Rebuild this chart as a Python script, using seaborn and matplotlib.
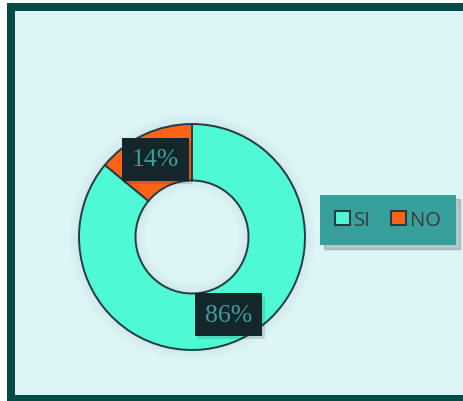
import matplotlib
matplotlib.use("Agg")
import matplotlib.pyplot as plt
import seaborn as sns
import numpy as np
from matplotlib.patches import Rectangle, Patch
import matplotlib.patheffects as pe

categories = ["SI", "NO"]
values = [86, 14]
colors = ["#4EF9D4", "#FF6316"]

sns.set_theme(style="white")
plt.rcParams['font.family'] = ['Open Sans', 'DejaVu Sans']

W, H = 463, 402
fig = plt.figure(figsize=(W / 100, H / 100), dpi=100)
fig.patch.set_facecolor("white")

# panel background and border
fig.patches.append(Rectangle((7 / W, 0), 1, (402 - 4) / H, transform=fig.transFigure,
                             facecolor="#044B45", edgecolor="none", zorder=-3))
fig.patches.append(Rectangle((15 / W, 6 / H), 1, (402 - 12 - 6) / H, transform=fig.transFigure,
                             facecolor="#DDF5F6", edgecolor="none", zorder=-2))

cx, cy, R = 192, 238, 113
ax = fig.add_axes([(cx - R) / W, (H - cy - R) / H, 2 * R / W, 2 * R / H])
ax.set_facecolor("none")

# soft shadow behind donut
for i in range(3):
    ax.pie([1], radius=1.0 + 0.03 * (i + 1), colors=["#7FA6A8"], startangle=90,
           wedgeprops=dict(width=0.5 + 0.06 * (i + 1), linewidth=0, alpha=0.04))

wedges, _ = ax.pie(values, colors=colors, startangle=90, counterclock=False,
                   radius=1.0, wedgeprops=dict(width=0.5, edgecolor="#263B45", linewidth=1.4))
ax.set_xlim(-1, 1)
ax.set_ylim(-1, 1)
ax.set_aspect("equal")
ax.axis("off")

for w, v in zip(wedges, values):
    ang = np.deg2rad((w.theta1 + w.theta2) / 2)
    r = 0.76
    x, y = r * np.cos(ang), r * np.sin(ang)
    t = ax.text(x, y, f"{v}%", ha="center", va="center", fontsize=18.5,
                family=["Liberation Serif"], color="#3F9C9C",
                bbox=dict(boxstyle="square,pad=0.4", facecolor="#13262A", edgecolor="none"))
    t.get_bbox_patch().set_path_effects([
        pe.SimplePatchShadow(offset=(2, -2.5), shadow_rgbFace="#000000", alpha=0.12),
        pe.Normal()])

handles = [Patch(facecolor=c, edgecolor="#263B45", linewidth=1.5) for c in colors]
leg = fig.legend(handles, categories, loc="center", bbox_to_anchor=(388 / W, 1 - 221 / H),
                 ncol=2, frameon=True, fancybox=False,
                 shadow={"color": "#000000", "alpha": 0.18, "ox": 3, "oy": -3},
                 facecolor="#38A09C", edgecolor="none", framealpha=1, fontsize=14.5,
                 handlelength=0.75, handleheight=0.75, handletextpad=0.2, columnspacing=1.0,
                 borderpad=0.75, borderaxespad=0, labelcolor="#3A3A3A")

fig.savefig("out.png", dpi=100, facecolor=fig.get_facecolor())
